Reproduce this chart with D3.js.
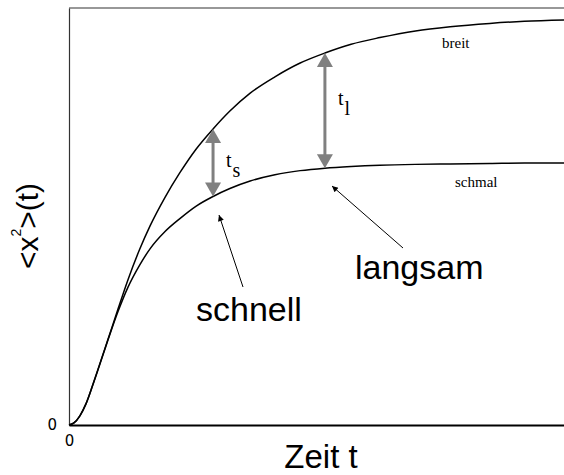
<!DOCTYPE html>
<html>
<head>
<meta charset="utf-8">
<script src="https://cdn.jsdelivr.net/npm/d3@7"></script>
<style>
  html, body { margin: 0; padding: 0; background: #fff; }
  svg { display: block; }
</style>
</head>
<body>
<svg id="chart" width="564" height="475"></svg>
<script>
// Mean squared displacement <x^2>(t) for a broad and a narrow well
const times  = [0, 1, 2.2, 3.4, 4.8, 6.2, 7.9, 9.9, 11.9, 14.3, 16.4, 19.4, 22.4, 25.7, 29.1, 32.5, 36.6, 41.6, 46.7, 51.7, 57, 62.8, 70, 77, 85, 92, 100];
const breit  = [0, 0.5, 2.2, 5.0, 9.6, 14.5, 20.6, 27.8, 34.8, 42.2, 47.8, 54.6, 60.5, 66.2, 71.0, 75.3, 79.6, 83.5, 86.8, 89.2, 91.3, 92.9, 94.5, 95.5, 96.3, 96.8, 97.1];
const schmal = [0, 0.5, 2.2, 5.0, 9.6, 14.5, 20.5, 27.2, 33.0, 38.4, 42.3, 46.4, 49.5, 52.5, 54.8, 56.7, 58.5, 60.0, 61.0, 61.6, 62.0, 62.3, 62.5, 62.6, 62.7, 62.8, 62.8];
// times at which the gap between the curves is marked (t_s, t_l)
const gapTimes = [29.1, 51.7];
const gapLabels = ["s", "l"];
const xTicks = [0];
const yTicks = [0];

const svg = d3.select("#chart");
const x = d3.scaleLinear().domain([0, 100]).range([69, 564]);
const y = d3.scaleLinear().domain([0, 100]).range([425, 8]);

const defs = svg.append("defs");
defs.append("marker")
  .attr("id", "tip").attr("viewBox", "0 0 10 10")
  .attr("refX", 10).attr("refY", 5)
  .attr("markerWidth", 8).attr("markerHeight", 6)
  .attr("markerUnits", "userSpaceOnUse")
  .attr("orient", "auto")
  .append("path").attr("d", "M0,0L10,5L0,10Z").attr("fill", "#000");

// frame: top edge
svg.append("line")
  .attr("x1", x(0)).attr("x2", x(100))
  .attr("y1", y(100)).attr("y2", y(100))
  .attr("stroke", "#333").attr("stroke-width", 1.2);

// axes
const gx = svg.append("g").attr("transform", `translate(0,${y(0)})`)
  .call(d3.axisBottom(x).tickValues(xTicks).tickSize(0).tickPadding(10).tickFormat(d3.format("d")));
gx.select(".domain").attr("stroke", "#000").attr("stroke-width", 2);
gx.selectAll("text").attr("font-family", "DejaVu Sans, sans-serif").attr("font-size", 15).attr("fill", "#000");

const gy = svg.append("g").attr("transform", `translate(${x(0)},0)`)
  .call(d3.axisLeft(y).tickValues(yTicks).tickSize(0).tickPadding(12).tickFormat(d3.format("d")));
gy.select(".domain").attr("stroke", "#333").attr("stroke-width", 1.2);
gy.selectAll("text").attr("font-family", "DejaVu Sans, sans-serif").attr("font-size", 15).attr("fill", "#000");

// curves
const line = d3.line().x((d, i) => x(times[i])).y(d => y(d)).curve(d3.curveMonotoneX);
[breit, schmal].forEach(s => {
  svg.append("path").attr("d", line(s))
    .attr("fill", "none").attr("stroke", "#000").attr("stroke-width", 1.5);
});

// gap arrows between the curves
const valAt = (series, t) => series[times.indexOf(t)];
const grey = "#808080";
const headW = 8, headH = 14;
const labelShift = [4, -6];
gapTimes.forEach((t, i) => {
  const px = x(t), top = y(valAt(breit, t)), bot = y(valAt(schmal, t));
  const g = svg.append("g");
  g.append("line").attr("x1", px).attr("x2", px)
    .attr("y1", top + headH - 1).attr("y2", bot - headH + 1)
    .attr("stroke", grey).attr("stroke-width", 3);
  g.append("path").attr("fill", grey)
    .attr("d", `M${px},${top}L${px - headW},${top + headH}L${px + headW},${top + headH}Z`);
  g.append("path").attr("fill", grey)
    .attr("d", `M${px},${bot}L${px - headW},${bot - headH}L${px + headW},${bot - headH}Z`);
  const mid = (top + bot) / 2;
  const lab = g.append("text")
    .attr("x", px + 13).attr("y", mid + labelShift[i])
    .attr("font-family", "Liberation Serif, Times New Roman, serif")
    .attr("font-size", 20).attr("fill", "#000");
  lab.append("tspan").text("t");
  lab.append("tspan").attr("dy", 10).attr("dx", 1).text(gapLabels[i]);
});

// curve names
svg.append("text").attr("x", 442).attr("y", 48)
  .attr("font-family", "Liberation Serif, Times New Roman, serif")
  .attr("font-size", 15).text("breit");
svg.append("text").attr("x", 455).attr("y", 187)
  .attr("font-family", "Liberation Serif, Times New Roman, serif")
  .attr("font-size", 15).text("schmal");

// regime annotations
const ann = [
  { text: "schnell", tx: 196, ty: 321, x1: 243, y1: 287, x2: 219, y2: 215 },
  { text: "langsam", tx: 355, ty: 279, x1: 403, y1: 248, x2: 332, y2: 186 }
];
ann.forEach(a => {
  svg.append("line").attr("x1", a.x1).attr("y1", a.y1).attr("x2", a.x2).attr("y2", a.y2)
    .attr("stroke", "#000").attr("stroke-width", 1).attr("marker-end", "url(#tip)");
  svg.append("text").attr("x", a.tx).attr("y", a.ty)
    .attr("font-family", "Liberation Sans, Arial, sans-serif")
    .attr("font-size", 34).text(a.text);
});

// axis titles
svg.append("text").attr("x", 321).attr("y", 468)
  .attr("text-anchor", "middle")
  .attr("font-family", "Liberation Sans, Arial, sans-serif")
  .attr("font-size", 33).text("Zeit t");

const yt = svg.append("text")
  .attr("transform", "translate(38,226) rotate(-90)")
  .attr("text-anchor", "middle")
  .attr("font-family", "Liberation Sans, Arial, sans-serif")
  .attr("font-size", 30);
yt.append("tspan").text("<x");
yt.append("tspan").attr("font-size", 14).attr("dy", -17).text("2");
yt.append("tspan").attr("dy", 17).text(">(t)");
</script>
</body>
</html>
